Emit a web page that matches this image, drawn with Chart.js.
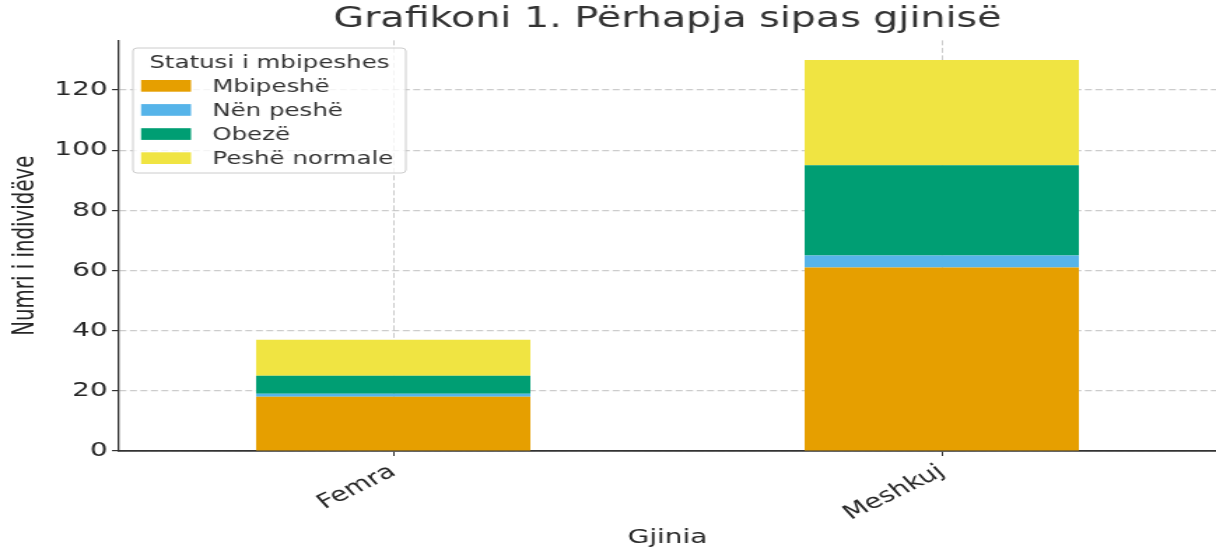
<!DOCTYPE html>
<html>
<head>
<meta charset="utf-8">
<script src="https://cdn.jsdelivr.net/npm/chart.js@4.4.1/dist/chart.umd.min.js"></script>
<style>
html, body { margin: 0; padding: 0; background: #fff; overflow: hidden; }
/* the reference picture is stretched sideways, so the chart is drawn narrow and scaled */
#wrap { width: 869px; height: 555px; transform: scale(1.3993, 1); transform-origin: 0 0; }
</style>
</head>
<body>
<div id="wrap"><canvas id="grafik"></canvas></div>
<script>
const gjinia = ['Femra', 'Meshkuj'];
const statusi = ['Mbipeshë', 'Nën peshë', 'Obezë', 'Peshë normale'];
const mbipeshe = [18, 61];
const nenPeshe = [1, 4];
const obeze = [6, 30];
const peshaNormale = [12, 35];
const yTicks = [0, 20, 40, 60, 80, 100, 120];
const ngjyrat = ['#E69F00', '#56B4E9', '#009E73', '#F0E442'];
const titulli = 'Grafikoni 1. Përhapja sipas gjinisë';
const titulliLegjendes = 'Statusi i mbipeshes';

Chart.defaults.font.family = '"DejaVu Sans"';
Chart.defaults.color = '#262626';

// legjenda brenda grafikut, si ne matplotlib
const legjendaPlugin = {
    id: 'legjenda',
    afterDraw(chart) {
        const ctx = chart.ctx;
        const x0 = 95, y0 = 48, w = 195, h = 125;
        ctx.save();
        ctx.fillStyle = 'rgba(255,255,255,0.8)';
        ctx.strokeStyle = '#cccccc';
        ctx.lineWidth = 1;
        ctx.beginPath();
        ctx.roundRect(x0, y0, w, h, 3);
        ctx.fill();
        ctx.stroke();
        ctx.font = '17.5px "DejaVu Sans"';
        ctx.fillStyle = '#333';
        ctx.textAlign = 'center';
        ctx.textBaseline = 'alphabetic';
        ctx.fillText(titulliLegjendes, x0 + w / 2, 67.5);
        ctx.textAlign = 'left';
        chart.data.datasets.forEach((ds, i) => {
            const y = 80 + i * 24.1;
            ctx.fillStyle = ds.backgroundColor;
            ctx.fillRect(100.8, y, 35.7, 11.7);
            ctx.fillStyle = '#333';
            ctx.fillText(ds.label, 151.7, y + 11.7);
        });
        ctx.restore();
    }
};

const seri = [mbipeshe, nenPeshe, obeze, peshaNormale];

new Chart(document.getElementById('grafik'), {
    type: 'bar',
    data: {
        labels: gjinia,
        datasets: seri.map((vlerat, i) => ({
            label: statusi[i],
            data: vlerat,
            backgroundColor: ngjyrat[i],
            borderWidth: 0,
            barPercentage: 1,
            categoryPercentage: 0.5
        }))
    },
    options: {
        responsive: true,
        maintainAspectRatio: false,
        animation: false,
        layout: { padding: 0 },
        plugins: {
            legend: { display: false },
            tooltip: { enabled: false },
            title: {
                display: true,
                fullSize: false,
                text: titulli,
                color: '#333',
                font: { size: 28.3, weight: 'normal' },
                padding: { top: 3, bottom: 3.4 }
            }
        },
        scales: {
            x: {
                stacked: true,
                grid: {
                    offset: false,
                    color: 'rgba(170,170,170,0.6)',
                    lineWidth: 1,
                    tickColor: '#333',
                    tickLength: 5,
                    tickWidth: 1
                },
                border: { display: true, color: '#333', width: 1.8, dash: [5, 2.5] },
                ticks: { font: { size: 20 }, maxRotation: 34, minRotation: 34, padding: 4 },
                title: {
                    display: true,
                    text: 'Gjinia',
                    font: { size: 20 },
                    padding: { top: 0, bottom: 5 }
                },
                afterFit(scale) { scale.height = 104; }
            },
            y: {
                stacked: true,
                min: 0,
                max: 136.5,
                afterBuildTicks(scale) { scale.ticks = yTicks.map(v => ({ value: v })); },
                grid: {
                    color: 'rgba(170,170,170,0.6)',
                    lineWidth: 1.2,
                    tickColor: '#333',
                    tickLength: 5,
                    tickWidth: 1.2
                },
                border: { display: true, color: '#333', width: 1.3, dash: [5, 2.5] },
                ticks: { font: { size: 20 }, padding: 3 },
                title: {
                    display: true,
                    text: 'Numri i individëve',
                    font: { family: '"DejaVu Sans Condensed", "DejaVu Sans"', size: 22 },
                    padding: { top: 5, bottom: 0 }
                },
                afterFit(scale) { scale.width = 85; }
            }
        }
    },
    plugins: [legjendaPlugin]
});
</script>
</body>
</html>
